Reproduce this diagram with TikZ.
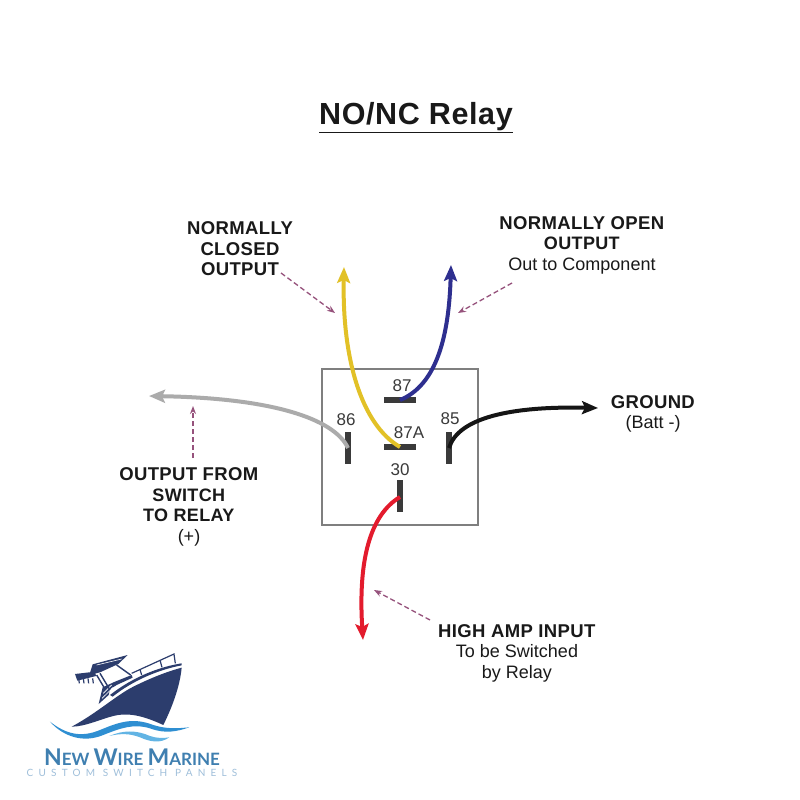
\documentclass[tikz,border=0pt]{standalone}
\usepackage{xcolor}
\usepackage{fontspec}
\usepackage{tikz}
\usetikzlibrary{arrows.meta}
\setmainfont[BoldFeatures={LetterSpace=2}]{Liberation Sans}
\newfontfamily\logofont[LetterSpace=52]{Lato}
\newfontfamily\brandfont{Lato}
\definecolor{pinGray}{HTML}{3A3A3A}
\definecolor{boxGray}{HTML}{7F7F7F}
\definecolor{noteMauve}{HTML}{96527C}
\definecolor{wireYellow}{HTML}{E2C127}
\definecolor{wireBlue}{HTML}{2E2F8F}
\definecolor{wireGray}{HTML}{ABABAB}
\definecolor{wireBlack}{HTML}{151515}
\definecolor{wireRed}{HTML}{E31B2D}
\definecolor{hullNavy}{HTML}{2C3D6D}
\definecolor{waveDeep}{HTML}{2F8FD2}
\definecolor{waveLight}{HTML}{62B4E4}
\definecolor{brandBlue}{HTML}{3F7FB0}
\definecolor{brandPale}{HTML}{9FBFDA}
\tikzset{
  callout/.style={align=center,text=black!90,font=\fontsize{18}{20.5}\selectfont},
  pinlabel/.style={text=pinGray,font=\fontsize{17}{20}\selectfont},
  pinh/.style={fill=pinGray,minimum width=32pt,minimum height=5.5pt,inner sep=0pt},
  pinv/.style={fill=pinGray,minimum width=5.5pt,minimum height=32pt,inner sep=0pt},
  wire/.style={line width=4pt,-{Stealth[length=16pt,width=13pt,inset=3pt]}},
  note/.style={dashed,noteMauve,line width=1.3pt,dash pattern=on 5pt off 3pt,-{Stealth[length=8pt,width=6pt]}}
}
\begin{document}
\begin{tikzpicture}[x=1pt,y=-1pt]
    \useasboundingbox (0,0) rectangle (800,800);
    \fill[white] (0,0) rectangle (800,800);

    % Title
    \node[font=\bfseries\fontsize{30.5}{36}\selectfont,text=black!90] (title) at (416,118) {\underline{NO/NC Relay}};

    % Draw the relay body
    \draw[boxGray,line width=1.5pt] (322,369) rectangle (478,525);

    % Pins of the relay
    \node[pinh] (pinA) at (400,400) {};
    \node[pinh] (pinB) at (400,447) {};
    \node[pinv] (pinC) at (348,448) {};
    \node[pinv] (pinD) at (449,448) {};
    \node[pinv] (pinE) at (400,496) {};

    % Pin numbers
    \node[pinlabel] (numA) at (402,386) {87};
    \node[pinlabel] (numB) at (409,433) {87A};
    \node[pinlabel] (numC) at (346,420) {86};
    \node[pinlabel] (numD) at (450,419) {85};
    \node[pinlabel] (numE) at (400,470) {30};

    % Free ends of the wires
    \coordinate (endYellow) at (344,267);
    \coordinate (endBlue) at (451,265);
    \coordinate (endGray) at (149,396);
    \coordinate (endBlack) at (598,408);
    \coordinate (endRed) at (363,640);

    % Wires
    \draw[wire,wireGray] (pinC.center) .. controls (334,418) and (270,398) .. (endGray);
    \draw[wire,wireBlack] (pinD.center) .. controls (458,418) and (510,406) .. (endBlack);
    \draw[wire,wireRed] (400,497) .. controls (370,515) and (358,560) .. (endRed);
    \draw[wire,wireBlue] (pinA.center) .. controls (437,385) and (449,335) .. (endBlue);
    \draw[wire,wireYellow] (pinB.center) .. controls (362,425) and (342,360) .. (endYellow);

    % Labels
    \node[callout,font=\bfseries\fontsize{18.5}{20.5}\selectfont] (closedText) at (240,249) {NORMALLY\\CLOSED\\OUTPUT};
    \node[callout] (openText) at (582,245) {\fontsize{18.5}{20.5}\selectfont\textbf{NORMALLY OPEN}\\\textbf{OUTPUT}\\\fontsize{18}{20.5}\selectfont Out to Component};
    \node[callout] (groundText) at (653,414) {\fontsize{18.5}{20.5}\selectfont\textbf{GROUND}\\\fontsize{18}{20.5}\selectfont (Batt -)};
    \node[callout] (switchText) at (189,507) {\fontsize{18.5}{20.5}\selectfont\textbf{OUTPUT FROM}\\\textbf{SWITCH}\\\textbf{TO RELAY}\\\fontsize{18}{20.5}\selectfont (+)};
    \node[callout] (inputText) at (517,653) {\fontsize{18.5}{20.5}\selectfont\textbf{HIGH AMP INPUT}\\\fontsize{18}{20.5}\selectfont To be Switched\\by Relay};

    % Dashed pointers
    \coordinate (closedFrom) at (281,273);
    \coordinate (closedTo) at (335,313);
    \coordinate (openFrom) at (512,283);
    \coordinate (openTo) at (458,313);
    \coordinate (switchFrom) at (193,458);
    \coordinate (switchTo) at (193,406);
    \coordinate (inputFrom) at (430,620);
    \coordinate (inputTo) at (374,590);
    \draw[note] (closedFrom) -- (closedTo);
    \draw[note] (openFrom) -- (openTo);
    \draw[note] (switchFrom) -- (switchTo);
    \draw[note] (inputFrom) -- (inputTo);

    % Logo, in the coordinates of a 3x crop
    \begin{scope}[shift={(0,630)},x=0.3333pt,y=-0.3333pt]
        % Hull
        \fill[hullNavy] (215,290) .. controls (290,250) and (350,195) .. (400,170)
            .. controls (450,145) and (500,125) .. (545,113)
            .. controls (540,170) and (515,235) .. (490,285)
            .. controls (440,262) and (390,245) .. (340,258)
            .. controls (300,268) and (255,290) .. (215,290) -- cycle;
        % Gunwale and cabin
        \fill[hullNavy] (330,195) .. controls (400,140) and (480,110) .. (545,100)
            -- (545,106) .. controls (480,118) and (400,150) .. (338,200) -- cycle;
        \fill[hullNavy] (296,222) -- (308,172) -- (345,155) -- (395,135) -- (398,143)
            -- (350,165) -- (330,178) -- (326,195) -- cycle;
        \draw[white,line width=0.6pt] (306,205) -- (340,172) (310,190) -- (335,165);
        \draw[hullNavy,line width=1.2pt] (395,130) -- (522,72) -- (526,100);
        \draw[hullNavy,line width=1.2pt] (420,118) -- (425,135) (480,90) -- (486,112);
        % Hard top
        \fill[hullNavy] (278,103) -- (383,75) -- (355,102) -- (300,127) -- (268,135) -- cycle;
        \draw[white,line width=0.6pt] (290,105) -- (365,87);
        \draw[hullNavy,line width=1.4pt] (300,130) -- (330,180) (350,105) -- (392,135) (290,135) -- (312,172);
        % Lights below the top
        \fill[hullNavy] (225,132) -- (285,125) -- (288,138) -- (232,152) -- cycle;
        \foreach \lightx in {236,250,264,278}
            \draw[hullNavy,line width=1.2pt] (\lightx,145) -- (\lightx+2,160);
        % Waves
        \fill[waveDeep] (150,275) .. controls (195,310) and (240,325) .. (300,300)
            .. controls (360,275) and (400,262) .. (460,285)
            .. controls (500,298) and (535,295) .. (568,292)
            .. controls (530,305) and (495,312) .. (450,295)
            .. controls (400,280) and (360,295) .. (310,315)
            .. controls (250,340) and (190,320) .. (150,275) -- cycle;
        \fill[waveLight] (328,318) .. controls (370,300) and (410,300) .. (450,318)
            .. controls (470,325) and (490,325) .. (508,322)
            .. controls (480,342) and (450,335) .. (420,322)
            .. controls (390,310) and (360,310) .. (328,318) -- cycle;
    \end{scope}

    % Logo text
    \node[text=brandBlue,inner sep=0pt,font=\brandfont\bfseries] (brandName) at (132,757)
        {\fontsize{23}{26}\selectfont N\fontsize{17}{26}\selectfont EW \fontsize{23}{26}\selectfont W\fontsize{17}{26}\selectfont IRE \fontsize{23}{26}\selectfont M\fontsize{17}{26}\selectfont ARINE};
    \node[text=brandPale,inner sep=0pt,font=\logofont\fontsize{10}{12}\selectfont] (brandLine) at (132,773) {CUSTOM SWITCH PANELS};

\end{tikzpicture}
\end{document}
